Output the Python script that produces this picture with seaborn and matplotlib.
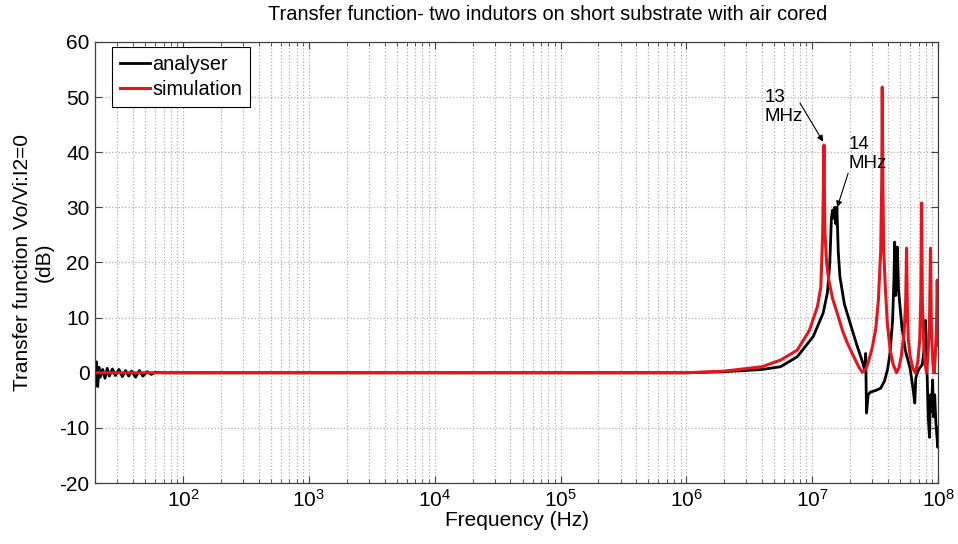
import matplotlib
matplotlib.use("Agg")
import matplotlib.pyplot as plt
from matplotlib.ticker import FixedLocator, NullFormatter
import seaborn as sns

# analyser (measured) trace, frequency in Hz and transfer function in dB
analyser_freq = [20, 20.5, 21, 21.5, 22, 23, 24, 25, 26, 27.5, 29, 31, 33, 35,
                 37, 39, 42, 45, 48, 52, 56, 60, 70, 1e3, 1e5, 1e6, 2e6, 4e6,
                 5.6e6, 7.6e6, 10.2e6, 12.2e6, 13.2e6, 13.8e6, 14.2e6, 14.5e6,
                 14.8e6, 15.1e6, 15.4e6, 15.7e6, 16.1e6, 16.6e6, 18e6, 20e6,
                 22.5e6, 24.8e6, 26.2e6, 26.6e6, 27.0e6, 27.8e6, 29e6, 32e6,
                 35e6, 37.5e6, 39.6e6, 41.5e6, 43.5e6, 44.6e6, 45.2e6, 46e6,
                 46.6e6, 47.5e6, 48.5e6, 51.6e6, 55e6, 59.9e6, 62e6, 63.4e6,
                 65.3e6, 66.5e6, 68.3e6, 71e6, 75e6, 78e6, 79.4e6, 80.5e6,
                 82e6, 83.5e6, 85.5e6, 87e6, 88.5e6, 90.5e6, 92e6, 94e6, 96e6,
                 99.4e6, 1e8]
analyser_db = [0.5, 2.0, -2.5, 1.0, -0.8, 0.6, -1.0, 0.8, -0.6, 0.7, -0.5,
               0.6, -0.7, 0.4, -0.6, 0.3, -0.8, 0.4, -0.6, 0.2, -0.3, 0.1,
               0.0, 0.0, 0.0, 0.0, 0.2, 0.6, 1.1, 2.9, 6.6, 10.8, 14.5, 20.0,
               28.0, 29.5, 28.0, 30.0, 27.0, 30.0, 22.0, 17.4, 12.5, 9.0, 5.2,
               2.3, 0.5, 3.5, -7.3, -4.0, -3.5, -3.2, -2.8, -1.5, 0.5, 3.5,
               9.5, 17.0, 23.7, 14.0, 21.0, 22.8, 15.0, 8.3, 4.0, 0.8, -1.5,
               -3.1, -5.5, -1.0, 0.0, 0.8, 1.5, 5.0, 9.5, 4.0, -1.0, -8.0,
               -11.7, -4.0, -7.0, -1.3, -8.0, -4.0, -9.0, -13.5, -10.0]

# simulated trace
simulation_freq = [20, 1e3, 1e5, 1e6, 2e6, 4e6, 5.6e6, 7.6e6, 9.5e6, 11e6,
                   11.7e6, 12.1e6, 12.4e6, 12.6e6, 13.0e6, 13.5e6, 14.5e6,
                   15.8e6, 17.5e6, 19e6, 21.5e6, 23.5e6, 25e6, 26.5e6, 28e6,
                   30e6, 32e6, 33.5e6, 35e6, 35.7e6, 36e6, 36.4e6, 37e6, 38e6,
                   39.5e6, 41.7e6, 44e6, 46.8e6, 49e6, 51e6, 53.7e6, 55.3e6,
                   56.2e6, 57e6, 58e6, 60e6, 63e6, 66e6, 69e6, 71.5e6, 73e6,
                   74e6, 75e6, 77e6, 79e6, 81e6, 83e6, 85.5e6, 87e6, 88.5e6,
                   91e6, 93e6, 95e6, 97e6, 98.5e6, 99.5e6, 1e8]
simulation_db = [0.0, 0.0, 0.0, 0.0, 0.3, 1.1, 2.3, 4.1, 7.7, 12.0, 15.5,
                 25.0, 41.3, 26.0, 20.0, 17.0, 13.5, 10.8, 7.5, 5.4, 2.8, 1.0,
                 0.1, 0.6, 2.0, 4.6, 8.0, 13.0, 22.0, 35.0, 51.8, 35.0, 22.0,
                 16.0, 9.0, 4.0, 1.5, 0.0, 1.0, 3.0, 7.2, 13.0, 22.6, 12.0,
                 6.0, 3.0, 0.8, 0.0, 2.0, 6.0, 14.0, 30.8, 13.0, 5.0, 1.5,
                 0.0, 3.0, 9.0, 22.6, 8.0, 1.5, 0.0, 3.0, 8.0, 16.8, 10.0, 5.0]

x_major = [1e2, 1e3, 1e4, 1e5, 1e6, 1e7, 1e8]
x_minor = [m * 10 ** e for e in range(1, 8) for m in range(2, 10)
           if m * 10 ** e >= 20]

# (text, arrow head x, y, arrow tail x, y, text x, y)
annotations = [("13\nMHz", 12.2e6, 41.9, 8.0e6, 48.9, 4.2e6, 45.0),
               ("14\nMHz", 15.8e6, 30.0, 19.3e6, 36.2, 19.3e6, 36.4)]

plt.rcParams["font.family"] = ["Liberation Sans", "DejaVu Sans"]
plt.rcParams["axes.unicode_minus"] = False

fig = plt.figure(figsize=(9.58, 5.44), dpi=100)
ax = fig.add_axes([0.0992, 0.112, 0.8800, 0.811])

sns.lineplot(x=analyser_freq, y=analyser_db, ax=ax, color="black",
             linewidth=2, label="analyser", estimator=None, sort=False)
sns.lineplot(x=simulation_freq, y=simulation_db, ax=ax, color="#e8141b",
             linewidth=2.2, label="simulation", estimator=None, sort=False)

ax.set_xscale("log")
ax.set_xlim(20, 1e8)
ax.set_ylim(-20, 60)
ax.set_yticks(range(-20, 61, 10))
ax.xaxis.set_major_locator(FixedLocator(x_major))
ax.xaxis.set_minor_locator(FixedLocator(x_minor))
ax.xaxis.set_minor_formatter(NullFormatter())
ax.grid(True, which="major", color="#b0b0b0", linestyle=":", linewidth=0.9)
ax.grid(True, which="minor", axis="x", color="#b0b0b0", linestyle=":", linewidth=0.9)
ax.tick_params(which="both", direction="in", top=True, right=True,
               labelsize=15, colors="#404040", labelcolor="black")
ax.tick_params(which="major", length=5, pad=4)
ax.tick_params(which="minor", length=3)
for s in ax.spines.values():
    s.set_color("#404040")
    s.set_linewidth(0.9)

fig.text(0.572, 0.974, "Transfer function- two indutors on short substrate with air cored",
         fontsize=14.4, ha="center", va="center")
ax.set_xlabel("Frequency (Hz)", fontsize=15, labelpad=0)
ax.set_ylabel("Transfer function Vo/Vi:I2=0\n(dB)", fontsize=15, labelpad=4,
              linespacing=1.15)

for txt, px, py, sx, sy, tx, ty in annotations:
    ax.annotate("", xy=(px, py), xytext=(sx, sy),
                arrowprops=dict(arrowstyle="-|>", color="black", lw=0.8,
                                mutation_scale=9, shrinkA=0, shrinkB=0))
    ax.text(tx, ty, txt, fontsize=13.5, ha="left", va="bottom",
            linespacing=1.15)

leg = ax.legend(loc="upper left", fontsize=14.3, frameon=True, fancybox=False,
                edgecolor="black", framealpha=1, handlelength=1.5,
                handletextpad=0.15, borderpad=0.4, labelspacing=0.3,
                borderaxespad=0, bbox_to_anchor=(0.02, 0.989))
leg.get_frame().set_linewidth(0.8)

fig.savefig("out.png", dpi=100)
